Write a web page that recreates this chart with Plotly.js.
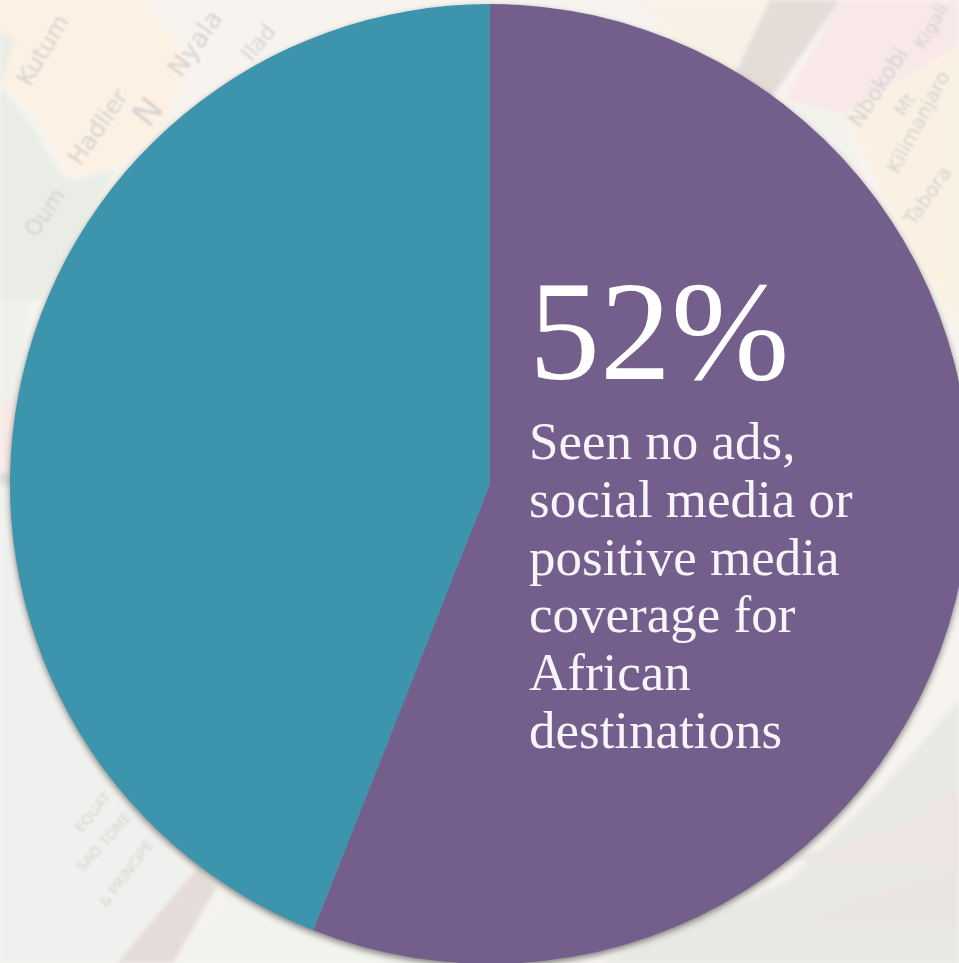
<!DOCTYPE html>
<html>
<head>
<meta charset="utf-8">
<script src="https://cdn.plot.ly/plotly-3.0.1.min.js"></script>
<style>
html,body{margin:0;padding:0;width:959px;height:963px;overflow:hidden;background:#f6f3ee}
#chart{width:1000px;height:1000px}
#chart .pielayer{filter:drop-shadow(0 3px 3px rgba(70,70,70,.65))}
</style>
</head>
<body>
<div id="chart"></div>
<script>
var sliceLabels = ["Seen no ads, social media or positive media coverage for African destinations", "Other respondents"];
var sliceValues = [56, 44];
var sliceColors = ["#745e8c", "#3c95ad"];
var headline = "52%";
var captionLines = ["Seen no ads,", "social media or", "positive media", "coverage for", "African", "destinations"];
var mapNames = ["Kutum", "Hadlier", "Nyala", "N", "Oum", "Ilad", "Kigali", "Nbokobi", "Mt", "Kilimanjaro", "Tabora", "EQUAT", "SAO TOME", "& PRINCIPE"];

/* Layout below: where the faint map backdrop sits in page pixels. */
var W = 1000, H = 1000;
function px(x){return x/W;}
function py(y){return 1-y/H;}
function poly(pts, fill){
  return {type:"path", xref:"paper", yref:"paper", layer:"below", line:{width:0}, fillcolor:fill,
    path:"M"+pts.map(function(p){return px(p[0])+","+py(p[1]);}).join(" L")+" Z"};
}
var shapes = [
  poly([[90,0],[140,0],[190,60],[160,130],[110,170],[70,175],[40,120],[0,80],[0,0]], "#fcf1e3"),
  poly([[0,30],[15,40],[0,85],[35,130],[60,175],[75,180],[115,170],[80,230],[40,300],[0,300]], "#e9ede6"),
  poly([[0,300],[30,300],[18,400],[0,400]], "#eff1eb"),
  poly([[0,400],[18,400],[13,473],[0,473]], "#f8e9e8"),
  poly([[0,473],[13,473],[13,485],[0,485]], "#dcdcda"),
  poly([[0,485],[14,485],[60,700],[210,900],[117,963],[0,963]], "#f0f1ee"),
  poly([[170,963],[230,890],[420,963]], "#f2f2ef"),
  poly([[197,868],[217,887],[173,963],[117,963]], "#e5dcda"),
  poly([[640,0],[770,0],[735,100],[690,60]], "#f7f1e6"),
  poly([[770,0],[840,0],[770,100],[735,75]], "#e5dcd8"),
  poly([[840,0],[959,0],[959,45],[845,115],[785,100]], "#f8e9e8"),
  poly([[845,115],[959,45],[959,330],[900,230]], "#fbf1e3"),
  poly([[785,100],[845,115],[855,175],[820,145]], "#f3f3ec"),
  poly([[600,963],[790,880],[880,790],[959,700],[959,963]], "#e8e9e5"),
  poly([[785,860],[820,860],[959,870],[959,790],[890,830]], "#ece5e1"),
  poly([[810,925],[850,900],[959,870],[959,925]], "#ebe5e1")
];
var mapPlacement = [
  [43,50,-59,24],[98,127,-55,24],[195,43,-55,26],[147,112,-50,34],[45,213,-55,22],[258,42,-50,22],
  [930,26,-60,18],[878,88,-57,22],[905,105,-57,18],[918,122,-62,20],[927,196,-55,20],
  [93,812,-50,14],[104,842,-48,14],[126,874,-53,14]
];
var annotations = mapNames.map(function(name, i){
  var m = mapPlacement[i];
  return {text:name, xref:"paper", yref:"paper", x:px(m[0]), y:py(m[1]), xanchor:"center", yanchor:"middle",
    showarrow:false, textangle:m[2], font:{family:"DejaVu Sans", size:m[3], color:"#d6d3d1"}};
});
annotations.push({text:headline, xref:"paper", yref:"paper", x:px(527), y:py(331), xanchor:"left", yanchor:"middle",
  showarrow:false, font:{family:"Liberation Serif, serif", size:142, color:"#ffffff"}});
captionLines.forEach(function(line, i){
  annotations.push({text:line, xref:"paper", yref:"paper", x:px(527), y:py(441+i*57.8), xanchor:"left", yanchor:"middle",
    showarrow:false, font:{family:"Liberation Serif, serif", size:53, color:"#f7f5f9"}});
});
Plotly.newPlot("chart", [{
  type:"pie", labels:sliceLabels, values:sliceValues, sort:false, direction:"clockwise", rotation:0,
  marker:{colors:sliceColors, line:{width:0}}, textinfo:"none", hoverinfo:"none",
  domain:{x:[px(10),px(970)], y:[py(964),py(4)]}
}], {
  width:W, height:H, margin:{l:0,r:0,t:0,b:0}, showlegend:false,
  paper_bgcolor:"#f7f4ef", plot_bgcolor:"#f7f4ef", shapes:shapes, annotations:annotations
}, {displayModeBar:false, staticPlot:true}).then(function(gd){
  var notes = gd.querySelectorAll(".annotation");
  for (var i = 0; i < mapNames.length && i < notes.length; i++) { notes[i].style.filter = "blur(0.9px)"; }
  var sh = gd.querySelector(".shapelayer");
  if (sh) { sh.style.filter = "blur(2px)"; }
});
</script>
</body>
</html>
